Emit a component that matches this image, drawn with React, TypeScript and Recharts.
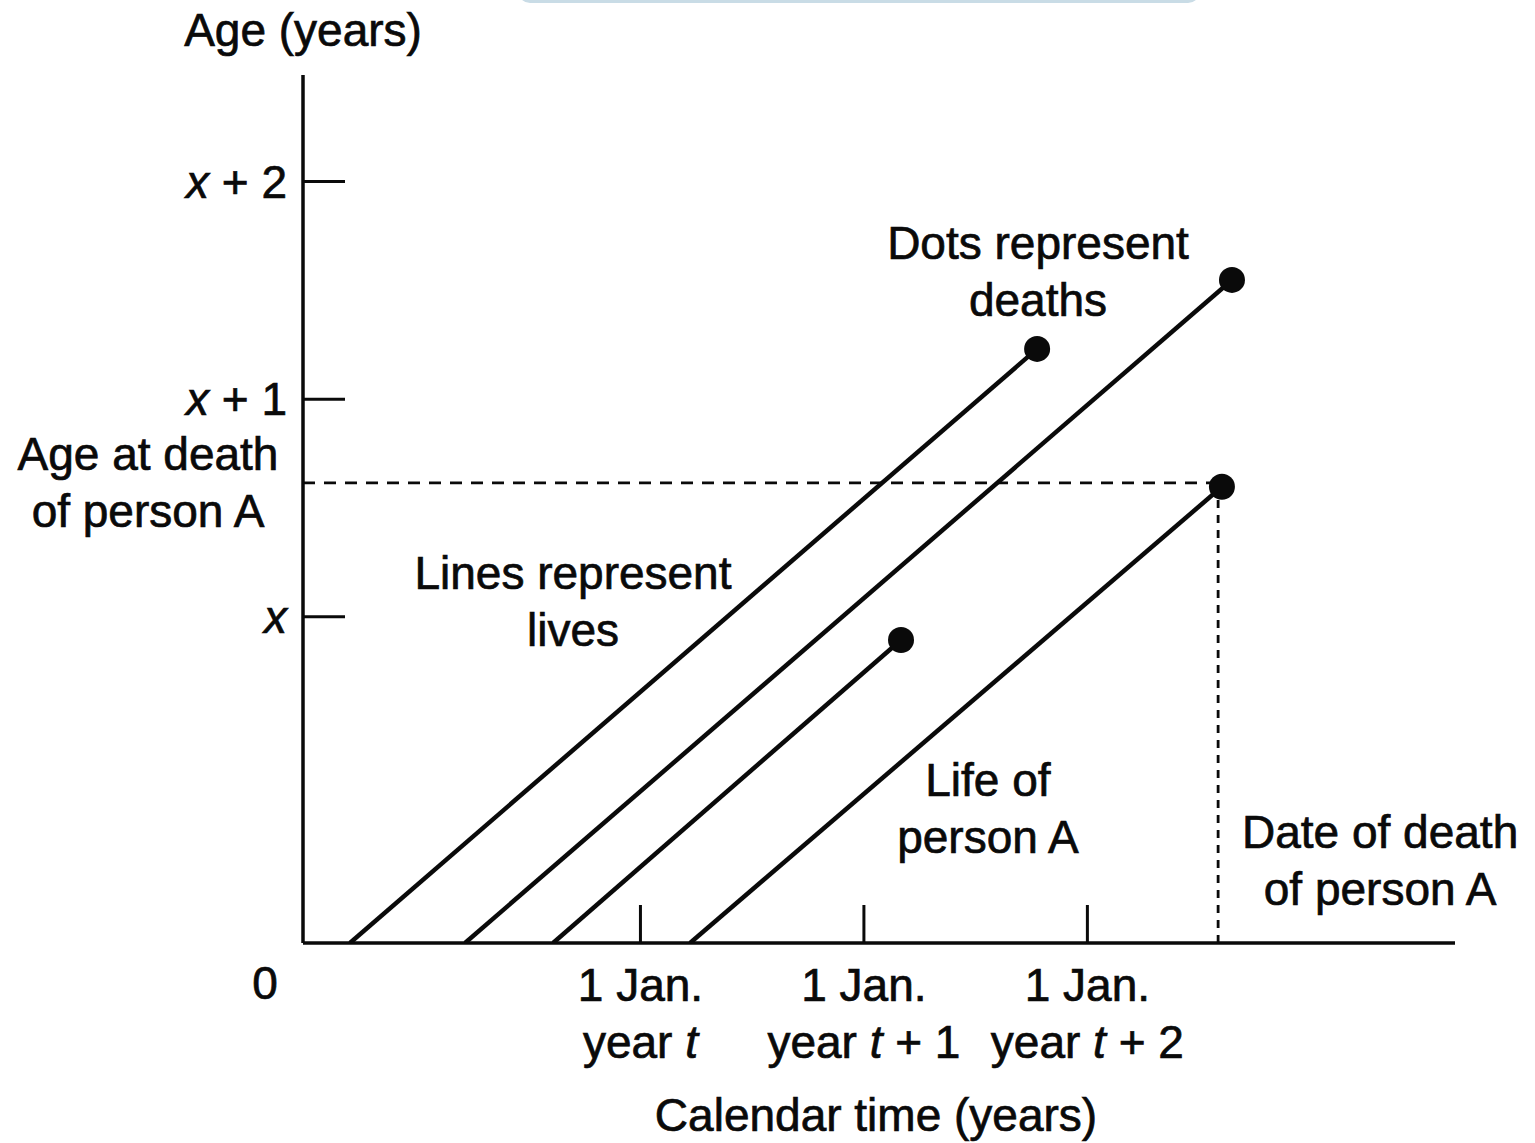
import {
  ComposedChart,
  Line,
  ReferenceDot,
  ReferenceLine,
  Scatter,
  XAxis,
  YAxis,
} from "recharts";

// calendar time: 1 = 1 Jan. year t, 2 = year t+1, 3 = year t+2
// age: 1.5 = x, 2.5 = x+1, 3.5 = x+2
const birthTimes = [-0.3, 0.215, 0.609, 1.222];
const deathTimes = [2.775, 3.647, 2.166, 3.602];
const deathAges = [2.731, 3.048, 1.393, 2.097];

const timeTicks = [1, 2, 3];
const timeTickYears = ["", "+ 1", "+ 2"];
const ageTicks = [0, 1.5, 2.5, 3.5];
const ageTickLabels = ["0", "", "+ 1", "+ 2"];

// person A is the fourth life; its guide lines
const personAIndex = 3;
const personADeathAgeGuide = 2.115;
const personADeathDateGuide = 3.585;

const notes = [
  { t: 2.779, age: 3.089, lines: ["Dots represent", "deaths"] },
  { t: 0.698, age: 1.572, lines: ["Lines represent", "lives"] },
  { t: 2.555, age: 0.621, lines: ["Life of", "person A"] },
];

const lives = birthTimes.map((b, i) => [
  { t: b, age: 0 },
  { t: deathTimes[i], age: deathAges[i] },
]);
const deaths = deathTimes.map((t, i) => ({ t, age: deathAges[i] }));

const FONT = "'Liberation Sans', Arial, Helvetica, sans-serif";
const FS = 46;
const INK = "#0a0a0a";

// scanned type looks a little heavier than the regular face
const txt = {
  fontFamily: FONT,
  fontSize: FS,
  fill: INK,
  stroke: INK,
  strokeWidth: 0.7,
};

const AgeTick = (props: any) => {
  const { x, y, payload, index } = props;
  if (payload.value === 0) {
    return (
      <text x={x - 38} y={y + 56} textAnchor="middle" {...txt}>
        0
      </text>
    );
  }
  const suffix = ageTickLabels[index];
  return (
    <g>
      <line x1={x} x2={x + 42} y1={y} y2={y} stroke={INK} strokeWidth={3} />
      <text x={x - 16} y={y + 16} textAnchor="end" {...txt}>
        <tspan fontStyle="italic">x</tspan>
        {suffix ? <tspan>{" " + suffix}</tspan> : null}
      </text>
    </g>
  );
};

const TimeTick = (props: any) => {
  const { x, y, index } = props;
  const suffix = timeTickYears[index];
  return (
    <g>
      <line x1={x} x2={x} y1={y} y2={y - 38} stroke={INK} strokeWidth={3} />
      <text x={x} y={y + 58} textAnchor="middle" {...txt}>
        1 Jan.
      </text>
      <text x={x} y={y + 115} textAnchor="middle" {...txt}>
        year <tspan fontStyle="italic">t</tspan>
        {suffix ? <tspan>{" " + suffix}</tspan> : null}
      </text>
    </g>
  );
};

const twoLines = (lines: string[], cx: number, cy: number) => (
  <g>
    <text x={cx} y={cy - 12} textAnchor="middle" {...txt}>
      {lines[0]}
    </text>
    <text x={cx} y={cy + 45} textAnchor="middle" {...txt}>
      {lines[1]}
    </text>
  </g>
);

export default function App() {
  return (
    <div style={{ position: "absolute", left: 0, top: 0, width: 1535, height: 1143, background: "#fff" }}>
      <style>{"body{margin:0;background:#fff}"}</style>
      <div
        style={{
          position: "absolute",
          left: 518,
          top: -30,
          width: 676,
          height: 30,
          border: "3px solid #c9dce6",
          borderTopWidth: 0,
          borderRadius: 12,
          boxShadow: "inset 0 -1px 0 #9aa89f",
        }}
      />
      <ComposedChart
        width={1535}
        height={1143}
        margin={{ top: 75, right: 80, bottom: 0, left: 0 }}
        style={{ position: "absolute", left: 0, top: 0 }}
      >
        <XAxis
          dataKey="t"
          type="number"
          domain={[-0.51, 4.645]}
          ticks={timeTicks}
          allowDataOverflow
          height={200}
          tickLine={false}
          tickSize={0}
          tickMargin={0}
          axisLine={{ stroke: INK, strokeWidth: 3.5 }}
          tick={<TimeTick />}
          label={{
            content: (p: any) => {
              const vb = p.viewBox;
              return (
                <text x={vb.x + 573} y={vb.y + 188} textAnchor="middle" {...txt}>
                  Calendar time (years)
                </text>
              );
            },
          }}
        />
        <YAxis
          dataKey="age"
          type="number"
          domain={[0, 3.99]}
          ticks={ageTicks}
          allowDataOverflow
          width={303}
          tickLine={false}
          tickSize={0}
          tickMargin={0}
          axisLine={{ stroke: INK, strokeWidth: 3.5 }}
          tick={<AgeTick />}
          label={{
            content: (p: any) => {
              const vb = p.viewBox;
              return (
                <text x={vb.x + vb.width} y={vb.y - 29} textAnchor="middle" {...txt}>
                  Age (years)
                </text>
              );
            },
          }}
        />
        <ReferenceLine
          segment={[
            { x: -0.51, y: personADeathAgeGuide },
            { x: deathTimes[personAIndex], y: personADeathAgeGuide },
          ]}
          stroke={INK}
          strokeWidth={2.8}
          strokeDasharray="12 9"
          label={{
            content: (p: any) => {
              const vb = p.viewBox;
              return (
                <g>
                  <text x={vb.x - 155} y={vb.y - 13} textAnchor="middle" {...txt}>
                    Age at death
                  </text>
                  <text x={vb.x - 155} y={vb.y + 44} textAnchor="middle" {...txt}>
                    of person A
                  </text>
                </g>
              );
            },
          }}
        />
        <ReferenceLine
          segment={[
            { x: personADeathDateGuide, y: 0 },
            { x: personADeathDateGuide, y: deathAges[personAIndex] },
          ]}
          stroke={INK}
          strokeWidth={2.8}
          strokeDasharray="8 7"
          label={{
            content: (p: any) => {
              const vb = p.viewBox;
              const bottom = vb.y + vb.height;
              return (
                <g>
                  <text x={vb.x + 162} y={bottom - 95} textAnchor="middle" {...txt}>
                    Date of death
                  </text>
                  <text x={vb.x + 162} y={bottom - 38} textAnchor="middle" {...txt}>
                    of person A
                  </text>
                </g>
              );
            },
          }}
        />
        {lives.map((life, i) => (
          <Line
            key={i}
            data={life}
            dataKey="age"
            type="linear"
            stroke={INK}
            strokeWidth={4.5}
            dot={false}
            activeDot={false}
            isAnimationActive={false}
          />
        ))}
        <Scatter
          data={deaths}
          dataKey="age"
          isAnimationActive={false}
          shape={(p: any) => <circle cx={p.cx} cy={p.cy} r={13} fill={INK} />}
        />
        {notes.map((n, i) => (
          <ReferenceDot
            key={i}
            x={n.t}
            y={n.age}
            r={0}
            fill="none"
            stroke="none"
            label={{ content: (p: any) => twoLines(n.lines, p.viewBox.x + (p.viewBox.width || 0) / 2, p.viewBox.y + (p.viewBox.height || 0) / 2) }}
          />
        ))}
      </ComposedChart>
    </div>
  );
}
